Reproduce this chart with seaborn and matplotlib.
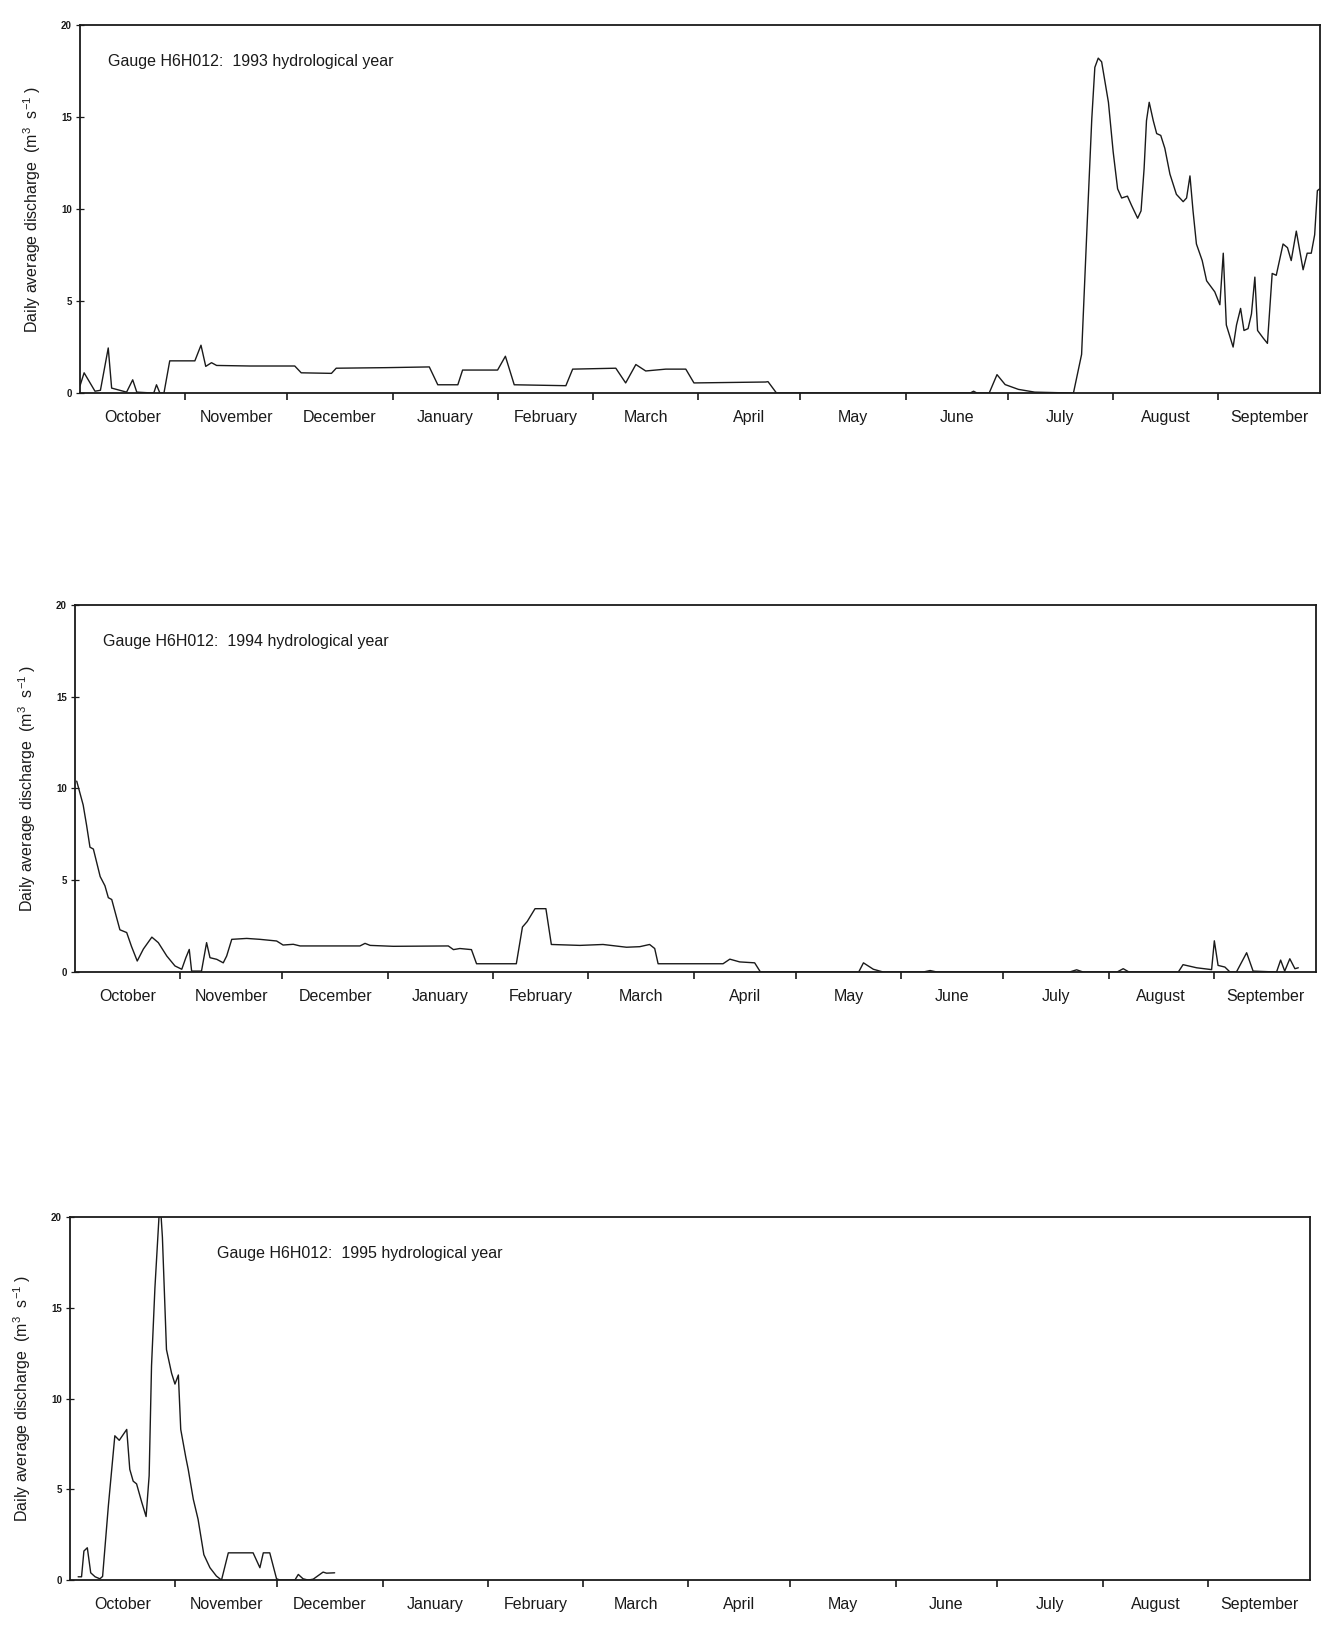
import matplotlib
matplotlib.use("Agg")
import matplotlib.pyplot as plt
import seaborn as sns
import pandas as pd

# ---- daily average discharge at gauge H6H012, day 0 = 1 October ----
day_1993 = [0, 1.2, 4.4, 6, 8.3, 9.3, 11.7, 13.7, 15.5, 16.7, 21.7, 22.5, 23.5, 24.7,
            26.4, 33.8, 35.6, 37, 38.7, 40.2, 50, 63.2, 65.1, 74, 75.4, 90, 102.8,
            105.3, 111.2, 112.6, 122.9, 125.2, 127.8, 143, 145, 157.7, 160.6, 163.6,
            166.5, 172.4, 178.3, 180.7, 201.8, 202.5, 205, 262, 263, 264, 267.6, 269.9,
            272.3, 276.2, 281, 292.4, 294.8, 296.3, 297.8, 298.7, 299.7, 300.7, 302.7,
            304.1, 305.4, 306.6, 308.3, 309.5, 311.3, 312.3, 313.2, 313.9, 314.7, 315.9,
            316.9, 318.1, 319.3, 320.8, 322.7, 324.7, 325.7, 326.7, 327.6, 328.6, 330.3,
            331.6, 334, 335.5, 336.5, 337.4, 339.4, 340.4, 341.6, 342.6, 343.8, 344.8,
            345.8, 346.6, 348.2, 349.5, 350.9, 352.1, 354.1, 355.4, 356.5, 358, 360,
            361.2, 362.4, 363.4, 364.2, 364.9]
q_1993 = [0.4, 1.1, 0.1, 0.15, 2.45, 0.27, 0.15, 0.05, 0.72, 0.05, 0.0, 0.45, 0.0, 0.0,
          1.75, 1.75, 2.6, 1.45, 1.65, 1.5, 1.47, 1.47, 1.1, 1.07, 1.35, 1.38, 1.42,
          0.45, 0.45, 1.25, 1.25, 2.0, 0.45, 0.4, 1.3, 1.35, 0.55, 1.55,
          1.2, 1.3, 1.3, 0.55, 0.6, 0.62, 0.0, 0.0, 0.1, 0.0, 0.0, 1.0,
          0.46, 0.2, 0.05, 0.0, 2.1, 8.6, 14.9, 17.7, 18.2, 18.0, 15.8,
          13.1, 11.1, 10.6, 10.7, 10.2, 9.5, 9.9, 12.2, 14.8, 15.8, 14.8,
          14.1, 14.0, 13.3, 11.9, 10.8, 10.4, 10.6, 11.8, 9.9, 8.1, 7.2,
          6.1, 5.5, 4.8, 7.6, 3.7, 2.5, 3.7, 4.6, 3.4, 3.5, 4.3,
          6.3, 3.4, 3.0, 2.7, 6.5, 6.4, 8.1, 7.9, 7.2, 8.8, 6.7,
          7.6, 7.6, 8.6, 11.0, 11.1]

day_1994 = [0.5, 2.4, 3.4, 4.4, 5.4, 7.4, 8.8, 9.8, 10.8, 13.2, 15.2, 16.6, 18.3, 20.1,
            22.6, 24.5, 27, 29.4, 31.4, 32.6, 33.6, 34.3, 37.2, 38.7, 39.7, 41.7, 43.6,
            44.6, 46.1, 50.5, 54.4, 59.3, 61.2, 64.2, 66.2, 83.8, 85.3, 86.8, 93.6,
            109.8, 111.3, 113.2, 116.6, 118.1, 129.8, 131.6, 133, 135.3, 138.5, 140.1,
            148.5, 155.3, 162.2, 166.1, 169, 170.5, 171.5, 190.6, 192.6, 195.5, 199.9,
            201.6, 230.5, 231.9, 234.8, 237.7, 249.5, 251.5, 253.5, 292.5, 294.6, 296.5,
            306.5, 308.3, 310, 324.5, 325.9, 329.9, 334.3, 335.1, 336.2, 338.2, 339.7,
            341.6, 344.6, 346.5, 353.4, 354.6, 355.8, 357.3, 358.8, 359.8]
q_1994 = [10.4, 9.1, 8.0, 6.8, 6.7, 5.2, 4.7, 4.05, 3.95, 2.3, 2.15, 1.4, 0.6, 1.25,
          1.9, 1.6, 0.87, 0.33, 0.15, 0.78, 1.23, 0.05, 0.05, 1.6, 0.78, 0.69, 0.5,
          0.87, 1.78, 1.83, 1.78, 1.69, 1.47, 1.51, 1.42, 1.42, 1.56, 1.45, 1.4,
          1.42, 1.22, 1.28, 1.22, 0.45, 0.45, 2.45, 2.75, 3.45, 3.45, 1.5,
          1.45, 1.5, 1.35, 1.38, 1.5, 1.28, 0.45, 0.45, 0.7, 0.55, 0.5,
          0.0, 0.0, 0.5, 0.15, 0.0, 0.0, 0.08, 0.0, 0.0, 0.12, 0.0,
          0.0, 0.18, 0.0, 0.0, 0.4, 0.23, 0.13, 1.7, 0.36, 0.27, 0.0,
          0.0, 1.05, 0.05, 0.0, 0.65, 0.05, 0.72, 0.18, 0.23]

day_1995 = [2.4, 3.4, 4.1, 5.1, 6.1, 7.4, 8.8, 9.6, 11.3, 13.2, 14.5, 16.7, 17.6, 18.6,
            19.6, 21.1, 22.4, 23.3, 24, 25, 26.5, 27.2, 28.4, 29.9, 30.9, 31.9, 32.6,
            34.1, 34.8, 36.3, 37.7, 39.4, 41.2, 43.1, 44.6, 46.6, 53.9, 55.9, 56.9,
            58.8, 60.8, 61.8, 66.2, 67.2, 68.6, 70.1, 71.6, 74.5, 75.5, 77.9]
q_1995 = [0.18, 0.18, 1.6, 1.78, 0.4, 0.18, 0.07, 0.2, 4.1, 7.95, 7.7, 8.3, 6.1, 5.45,
          5.3, 4.3, 3.5, 5.75, 11.8, 16.1, 21.0, 18.9, 12.7, 11.4, 10.8, 11.3, 8.3,
          6.75, 6.1, 4.45, 3.35, 1.4, 0.68, 0.22, 0.0, 1.5, 1.5, 0.68, 1.5,
          1.5, 0.07, 0.0, 0.0, 0.31, 0.07, 0.0, 0.05, 0.44, 0.38, 0.4]

# ---- axis labelling ----
month_names = ["October", "November", "December", "January", "February", "March",
               "April", "May", "June", "July", "August", "September"]
month_starts = [31, 61, 92, 123, 151, 182, 212, 243, 273, 304, 335]
month_mids = [15.5, 46, 76.5, 107.5, 137, 166.5, 197, 227.5, 258, 288.5, 319.5, 350]
y_ticks = [0, 5, 10, 15, 20]
years = ["1993", "1994", "1995"]

sns.set_style("ticks")
plt.rcParams["font.family"] = ["Liberation Sans", "DejaVu Sans"]
plt.rcParams["mathtext.fontset"] = "custom"
plt.rcParams["mathtext.rm"] = "Liberation Sans"
plt.rcParams["mathtext.it"] = "Liberation Sans:italic"

fig = plt.figure(figsize=(13.23, 16.35), dpi=100)
fig.patch.set_facecolor("white")

# [left, bottom, width, height] of each panel, plus caption x in axes fraction
panels = [
    ([0.0605, 0.7596, 0.9373, 0.2251], 0.0226),
    ([0.0567, 0.4055, 0.9380, 0.2245], 0.0226),
    ([0.0529, 0.0336, 0.9373, 0.2220], 0.1185),
]
series = [(day_1993, q_1993), (day_1994, q_1994), (day_1995, q_1995)]

for (rect, cap_x), (days, flows), year in zip(panels, series, years):
    ax = fig.add_axes(rect)
    df = pd.DataFrame({"day": days, "discharge": flows})
    sns.lineplot(data=df, x="day", y="discharge", ax=ax, color="#1a1a1a",
                 linewidth=1.0, estimator=None, sort=False)
    ax.set_xlim(0, 365)
    ax.set_ylim(0, 20)

    ax.set_xticks(month_starts)
    ax.set_xticklabels([])
    ax.set_xticks(month_mids, minor=True)
    ax.set_xticklabels(month_names, minor=True, fontsize=11.5)
    ax.tick_params(axis="x", which="major", direction="out", length=5, width=1.2,
                   color="#1a1a1a")
    ax.tick_params(axis="x", which="minor", length=0, pad=12, labelcolor="#1a1a1a")

    ax.set_yticks(y_ticks)
    ax.set_yticklabels([str(v) for v in y_ticks], fontsize=7, fontweight="bold")
    ax.tick_params(axis="y", which="major", direction="inout", length=6, width=0.9,
                   pad=3, color="#1a1a1a", labelcolor="#1a1a1a")

    ax.set_xlabel("")
    ax.set_ylabel("Daily average discharge  (m$^3$  s$^{-1}$ )", fontsize=11.5,
                  color="#1a1a1a")
    ax.yaxis.set_label_coords(-0.03, 0.5)

    for side in ["left", "right", "top", "bottom"]:
        ax.spines[side].set_visible(True)
        ax.spines[side].set_linewidth(1.3)
        ax.spines[side].set_color("#1a1a1a")

    ax.text(cap_x, 0.90, f"Gauge H6H012:  {year} hydrological year",
            transform=ax.transAxes, ha="left", va="center", fontsize=11.5,
            color="#1a1a1a")

fig.savefig("out.png", dpi=100, facecolor="white")
